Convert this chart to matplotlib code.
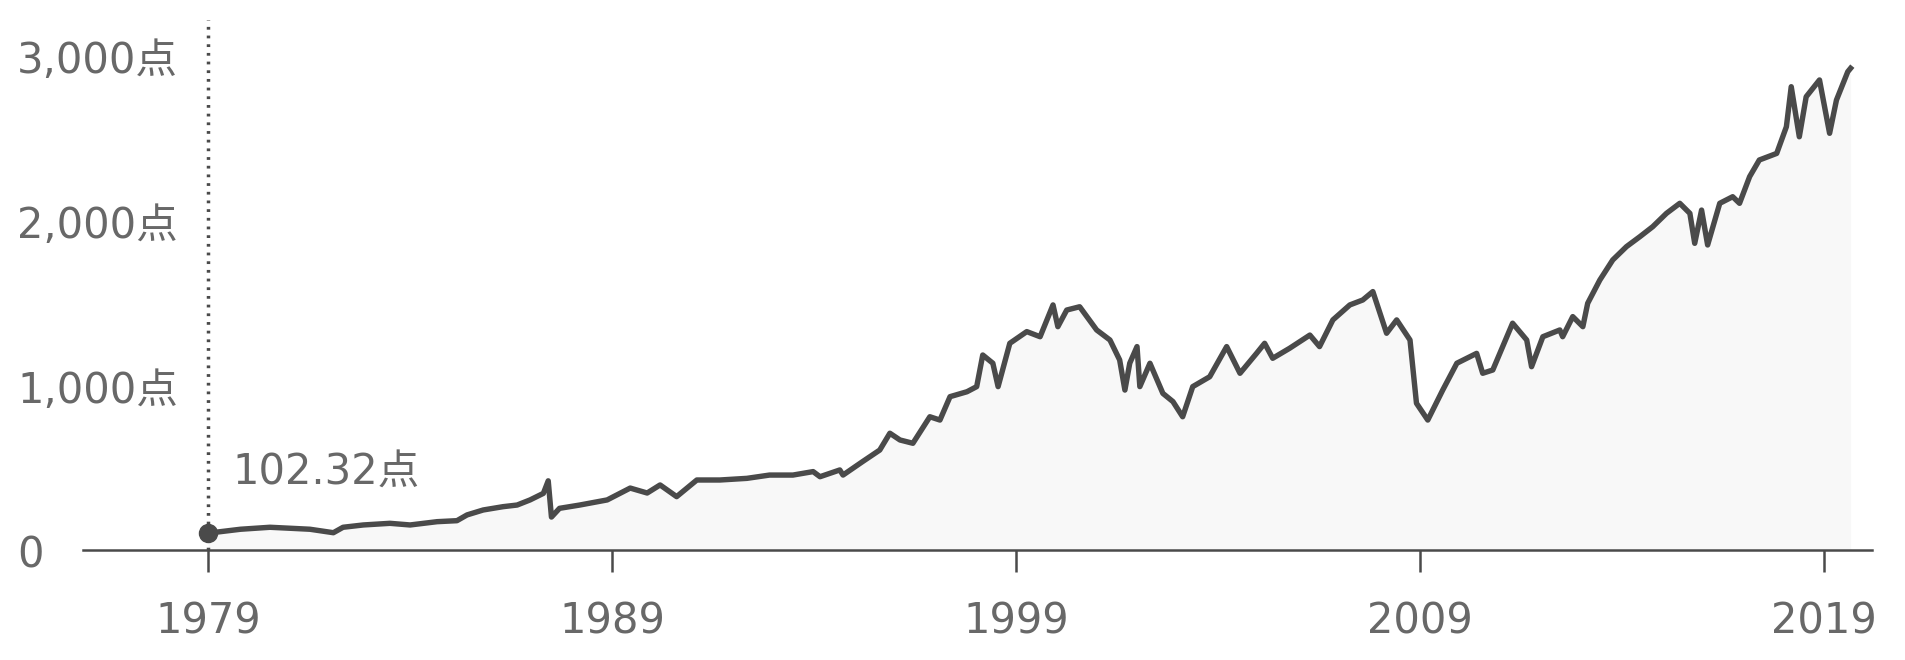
import matplotlib
matplotlib.use("Agg")
import matplotlib.pyplot as plt
import matplotlib.transforms as mtransforms

# digits in DejaVu (wide, like the original), 点 falls back to the CJK font
plt.rcParams['font.family'] = ['DejaVu Sans', 'Noto Sans CJK JP']

# ----------------------------
# data
# ----------------------------
years = [1979.0, 1979.8, 1980.53, 1981.03, 1981.52, 1982.1, 1982.34, 1982.84,
         1983.5, 1984.0, 1984.67, 1985.16, 1985.41, 1985.81, 1986.3, 1986.65,
         1986.97, 1987.3, 1987.42, 1987.5, 1987.7, 1988.2, 1988.88, 1989.45,
         1989.87, 1990.19, 1990.6, 1991.1, 1991.67, 1992.34, 1992.9, 1993.48,
         1993.98, 1994.15, 1994.64, 1994.72, 1995.2, 1995.63, 1995.88, 1996.13,
         1996.45, 1996.87, 1997.12, 1997.37, 1997.79, 1998.03, 1998.18, 1998.43,
         1998.56, 1998.85, 1999.27, 1999.6, 1999.92, 2000.04, 2000.26, 2000.58,
         2001.0, 2001.33, 2001.57, 2001.7, 2001.82, 2002.0, 2002.07, 2002.32,
         2002.64, 2002.89, 2003.13, 2003.38, 2003.8, 2004.22, 2004.55, 2004.96,
         2005.16, 2005.36, 2005.78, 2006.28, 2006.52, 2006.85, 2007.27, 2007.59,
         2007.84, 2008.18, 2008.43, 2008.76, 2008.92, 2009.2, 2009.57, 2009.92,
         2010.41, 2010.56, 2010.81, 2011.3, 2011.65, 2011.77, 2012.05, 2012.47,
         2012.54, 2012.79, 2013.04, 2013.16, 2013.46, 2013.78, 2014.12, 2014.45,
         2014.77, 2015.11, 2015.44, 2015.69, 2015.81, 2015.98, 2016.13, 2016.43,
         2016.75, 2016.92, 2017.17, 2017.41, 2017.84, 2018.08, 2018.2, 2018.4,
         2018.57, 2018.9, 2019.15, 2019.32, 2019.6, 2019.67]
values = [102.32, 126, 138, 132, 126, 105, 138, 152,
          162, 152, 172, 178, 213, 243, 263, 273,
          304, 344, 420, 200, 253, 273, 304, 376,
          346, 395, 324, 425, 425, 435, 455, 455,
          476, 445, 486, 455, 536, 607, 709, 668,
          648, 809, 789, 931, 961, 992, 1184, 1134,
          992, 1255, 1326, 1295, 1488, 1356, 1457, 1477,
          1336, 1275, 1154, 971, 1134, 1235, 992, 1134,
          951, 901, 809, 992, 1052, 1235, 1073, 1194,
          1255, 1164, 1225, 1305, 1235, 1397, 1488, 1518,
          1569, 1316, 1397, 1275, 891, 789, 971, 1134,
          1194, 1073, 1093, 1377, 1275, 1113, 1295, 1336,
          1295, 1417, 1356, 1498, 1639, 1761, 1842, 1902,
          1963, 2044, 2105, 2044, 1862, 2064, 1852, 2105,
          2145, 2105, 2267, 2368, 2408, 2570, 2813, 2509,
          2752, 2854, 2530, 2732, 2904, 2925]

x_ticks = [1979, 1989, 1999, 2009, 2019]
y_ticks = [0, 1000, 2000, 3000]
y_labels = ['0', '1,000点', '2,000点', '3,000点']
start_label = '102.32点'

# ----------------------------
# figure
# ----------------------------
W, H = 1906, 660
fig = plt.figure(figsize=(W / 100, H / 100), dpi=100)
ax = fig.add_axes([83 / W, 110 / H, (1872 - 83) / W, (550 - 20) / H])
ax.set_xlim(1975.9, 2020.2)
ax.set_ylim(0, 3218)

line_c = '#4a4a4a'
text_c = '#686868'

ax.fill_between(years, values, 0, color='#f8f8f8', lw=0, zorder=1)
ax.plot(years, values, color=line_c, lw=3.9, solid_joinstyle='round', zorder=3)
ax.axvline(years[0], ymin=0, ymax=1, color=line_c, lw=2.5, ls=(0, (0.8, 1.7)), zorder=2)
ax.plot(years[0], values[0], 'o', ms=13, color=line_c, zorder=4, clip_on=False)

ax.text(1979.6, 474, start_label, ha='left', va='center', fontsize=30, color=text_c)

for s in ['top', 'right', 'left']:
    ax.spines[s].set_visible(False)
ax.spines['bottom'].set_color(line_c)
ax.spines['bottom'].set_linewidth(1.8)

ax.set_xticks(x_ticks)
ax.set_xticklabels([str(y) for y in x_ticks])
ax.tick_params(axis='x', direction='out', length=16, width=1.8, color=line_c,
               labelsize=30, labelcolor=text_c, pad=20)
ax.set_yticks([])

trans = mtransforms.blended_transform_factory(fig.transFigure, ax.transData)
trans = mtransforms.offset_copy(trans, fig=fig, x=0, y=-4, units='points')
for v, lab in zip(y_ticks, y_labels):
    ax.text(17 / W, v, lab, transform=trans, ha='left', va='center',
            fontsize=30, color=text_c)

fig.savefig('out.png', dpi=100, facecolor='white')
